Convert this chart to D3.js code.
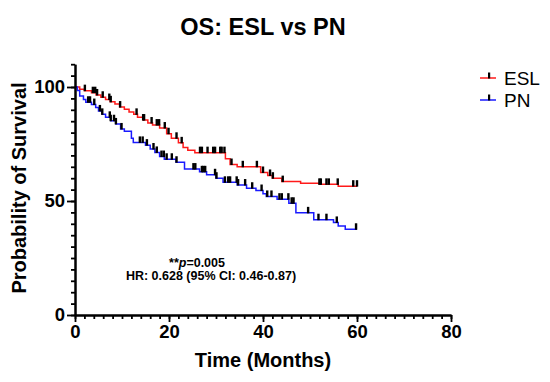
<!DOCTYPE html>
<html>
<head>
<meta charset="utf-8">
<script src="https://cdn.jsdelivr.net/npm/d3@7"></script>
<style>
  body { margin: 0; background: #fff; }
  text { font-family: "Liberation Sans", Arial, sans-serif; }
</style>
</head>
<body>
<svg id="svg" width="550" height="382"></svg>
<script>
// step points: [time, survival after the drop]
const eslSteps = [[0,100],[1,99],[2,98.4],[3.5,97.5],[4.5,96.5],[5.5,95.5],[6.5,94.5],[7.5,93.5],[8.5,92.5],[9.5,91.2],[10.5,90.2],[11.5,89],[12.5,88],[13.3,86.7],[14.5,85.5],[15.5,84.2],[16.5,83.3],[18,82],[19.5,79.5],[20.5,77.5],[22,75.5],[23,73.5],[24,72.3],[25.5,71.2],[32,68.5],[33,66],[34.5,65],[39.5,62.5],[41,61.2],[42,60],[44,58.5],[48,57.8],[52,57.3],[56,56.5],[60,56.5]];
const pnSteps = [[0,100],[0.5,98.5],[1,96],[1.8,94.5],[2.3,93.3],[3.5,92.3],[4.4,91],[5,89.5],[5.8,88],[6.5,86.7],[7.6,85.2],[8.7,83.8],[9.7,81.6],[10.5,80.6],[12,77.5],[12.4,75.7],[15,74.5],[16,72.8],[17,71.3],[18,69.5],[19,68.3],[21.5,67],[23.3,64],[26.5,62.8],[28,61.5],[30,60],[31.5,58.2],[34.5,57],[36.5,55.6],[38.5,54.6],[40,53.2],[40.7,52],[43,50.8],[45.5,49],[47,44.8],[50.8,41.8],[55,40.6],[56,39],[57.5,37.6],[60,37.6]];

// censored times
const eslCensor = [2.1,3.8,4.3,4.7,5.9,7.3,7.6,9.6,13.1,14.5,14.7,16.3,17.4,17.9,19.1,19.9,21.6,22.7,26.6,27,28.2,29.4,29.8,30.9,31.2,31.8,33.3,35.7,38.7,40,41.5,42.1,44.2,52,52.3,53.5,54,55.9,59.2,60];
const pnCensor = [2.8,3.2,4.1,5.3,5.8,7.4,7.6,8.3,8.7,9.9,13.8,14.4,15.3,16.7,17.4,18.4,18.9,19.5,20.6,21.6,25.2,25.6,27,27.3,27.7,29.8,30.1,31.9,32.6,33,34.4,34.7,36.2,37.7,39.7,40.9,41.8,43.5,44,45.4,46.1,46.5,49.6,51.8,53.5,55.7,59.8];

const xTicks = [0, 20, 40, 60, 80];
const yTicks = [0, 50, 100];

const svg = d3.select("#svg");

const x = d3.scaleLinear().domain([0, 80]).range([75, 451]);
const y = d3.scaleLinear().domain([0, 110]).range([315, 64.2]);

const series = [
	{ name: "ESL", steps: eslSteps, censor: eslCensor, color: "#ff1a1a" },
	{ name: "PN", steps: pnSteps, censor: pnCensor, color: "#1a1aff" },
];

const line = d3.line()
	.x((d) => x(d[0]))
	.y((d) => y(d[1]))
	.curve(d3.curveStepAfter);

const survAt = (steps, t) => {
	const i = d3.bisector((d) => d[0]).right(steps, t) - 1;
	return steps[Math.max(0, i)][1];
};

for (const s of series) {
	svg.append("path")
		.attr("d", line(s.steps))
		.attr("fill", "none")
		.attr("stroke", s.color)
		.attr("stroke-width", 1.5);

	svg.selectAll(`.c-${s.name}`)
		.data(s.censor)
		.join("rect")
		.attr("class", `c-${s.name}`)
		.attr("x", (d) => x(d) - 1.2)
		.attr("y", (d) => y(survAt(s.steps, d)) - 6)
		.attr("width", 2.4)
		.attr("height", 6.5)
		.attr("fill", "#000");
}

// axes
const styleAxis = (g) => {
	g.select(".domain").attr("stroke", "#000").attr("stroke-width", 2);
	g.selectAll(".tick line").attr("stroke", "#000").attr("stroke-width", 1.8);
	g.selectAll("text")
		.attr("font-size", 18.5)
		.attr("font-weight", "bold")
		.attr("fill", "#000")
		.style("font-family", "'Liberation Sans', Arial, sans-serif");
};

svg.append("g")
	.attr("transform", "translate(0,315)")
	.call(d3.axisBottom(x).tickValues(d3.range(0, 81, 2)).tickSize(4).tickFormat("").tickSizeOuter(0))
	.call(styleAxis);
svg.append("g")
	.attr("transform", "translate(0,315)")
	.call(d3.axisBottom(x).tickValues(xTicks).tickSize(7).tickPadding(3).tickSizeOuter(0))
	.call(styleAxis);

svg.append("g")
	.attr("transform", "translate(75,0)")
	.call(d3.axisLeft(y).tickValues(d3.range(0, 111, 5)).tickSize(4).tickFormat("").tickSizeOuter(0))
	.call(styleAxis);
svg.append("g")
	.attr("transform", "translate(75,0)")
	.call(d3.axisLeft(y).tickValues(yTicks).tickSize(8).tickPadding(2).tickSizeOuter(0))
	.call(styleAxis);

// titles
svg.append("text")
	.attr("x", 263).attr("y", 35)
	.attr("text-anchor", "middle")
	.attr("font-size", 23.5).attr("font-weight", "bold")
	.text("OS: ESL vs PN");

svg.append("text")
	.attr("x", 263).attr("y", 367)
	.attr("text-anchor", "middle")
	.attr("font-size", 20).attr("font-weight", "bold")
	.text("Time (Months)");

svg.append("text")
	.attr("transform", "translate(26,188) rotate(-90)")
	.attr("text-anchor", "middle")
	.attr("font-size", 20).attr("font-weight", "bold")
	.text("Probability of Survival");

// annotation
const ann = svg.append("text")
	.attr("x", 197).attr("y", 267)
	.attr("text-anchor", "middle")
	.attr("font-size", 12.5).attr("font-weight", "bold");
ann.append("tspan").text("**");
ann.append("tspan").attr("font-style", "italic").text("p");
ann.append("tspan").text("=0.005");

svg.append("text")
	.attr("x", 211).attr("y", 280)
	.attr("text-anchor", "middle")
	.attr("font-size", 12.5).attr("font-weight", "bold")
	.text("HR: 0.628 (95% CI: 0.46-0.87)");

// legend
const legend = svg.selectAll(".legend")
	.data(series)
	.join("g")
	.attr("class", "legend")
	.attr("transform", (d, i) => `translate(480,${78 + i * 22})`);
legend.append("line")
	.attr("x1", 0).attr("x2", 16)
	.attr("stroke", (d) => d.color)
	.attr("stroke-width", 1.5);
legend.append("rect")
	.attr("x", 8).attr("y", -5.5).attr("width", 2.2).attr("height", 6)
	.attr("fill", "#000");
legend.append("text")
	.attr("x", 24).attr("y", 7)
	.attr("font-size", 19)
	.text((d) => d.name);
</script>
</body>
</html>
